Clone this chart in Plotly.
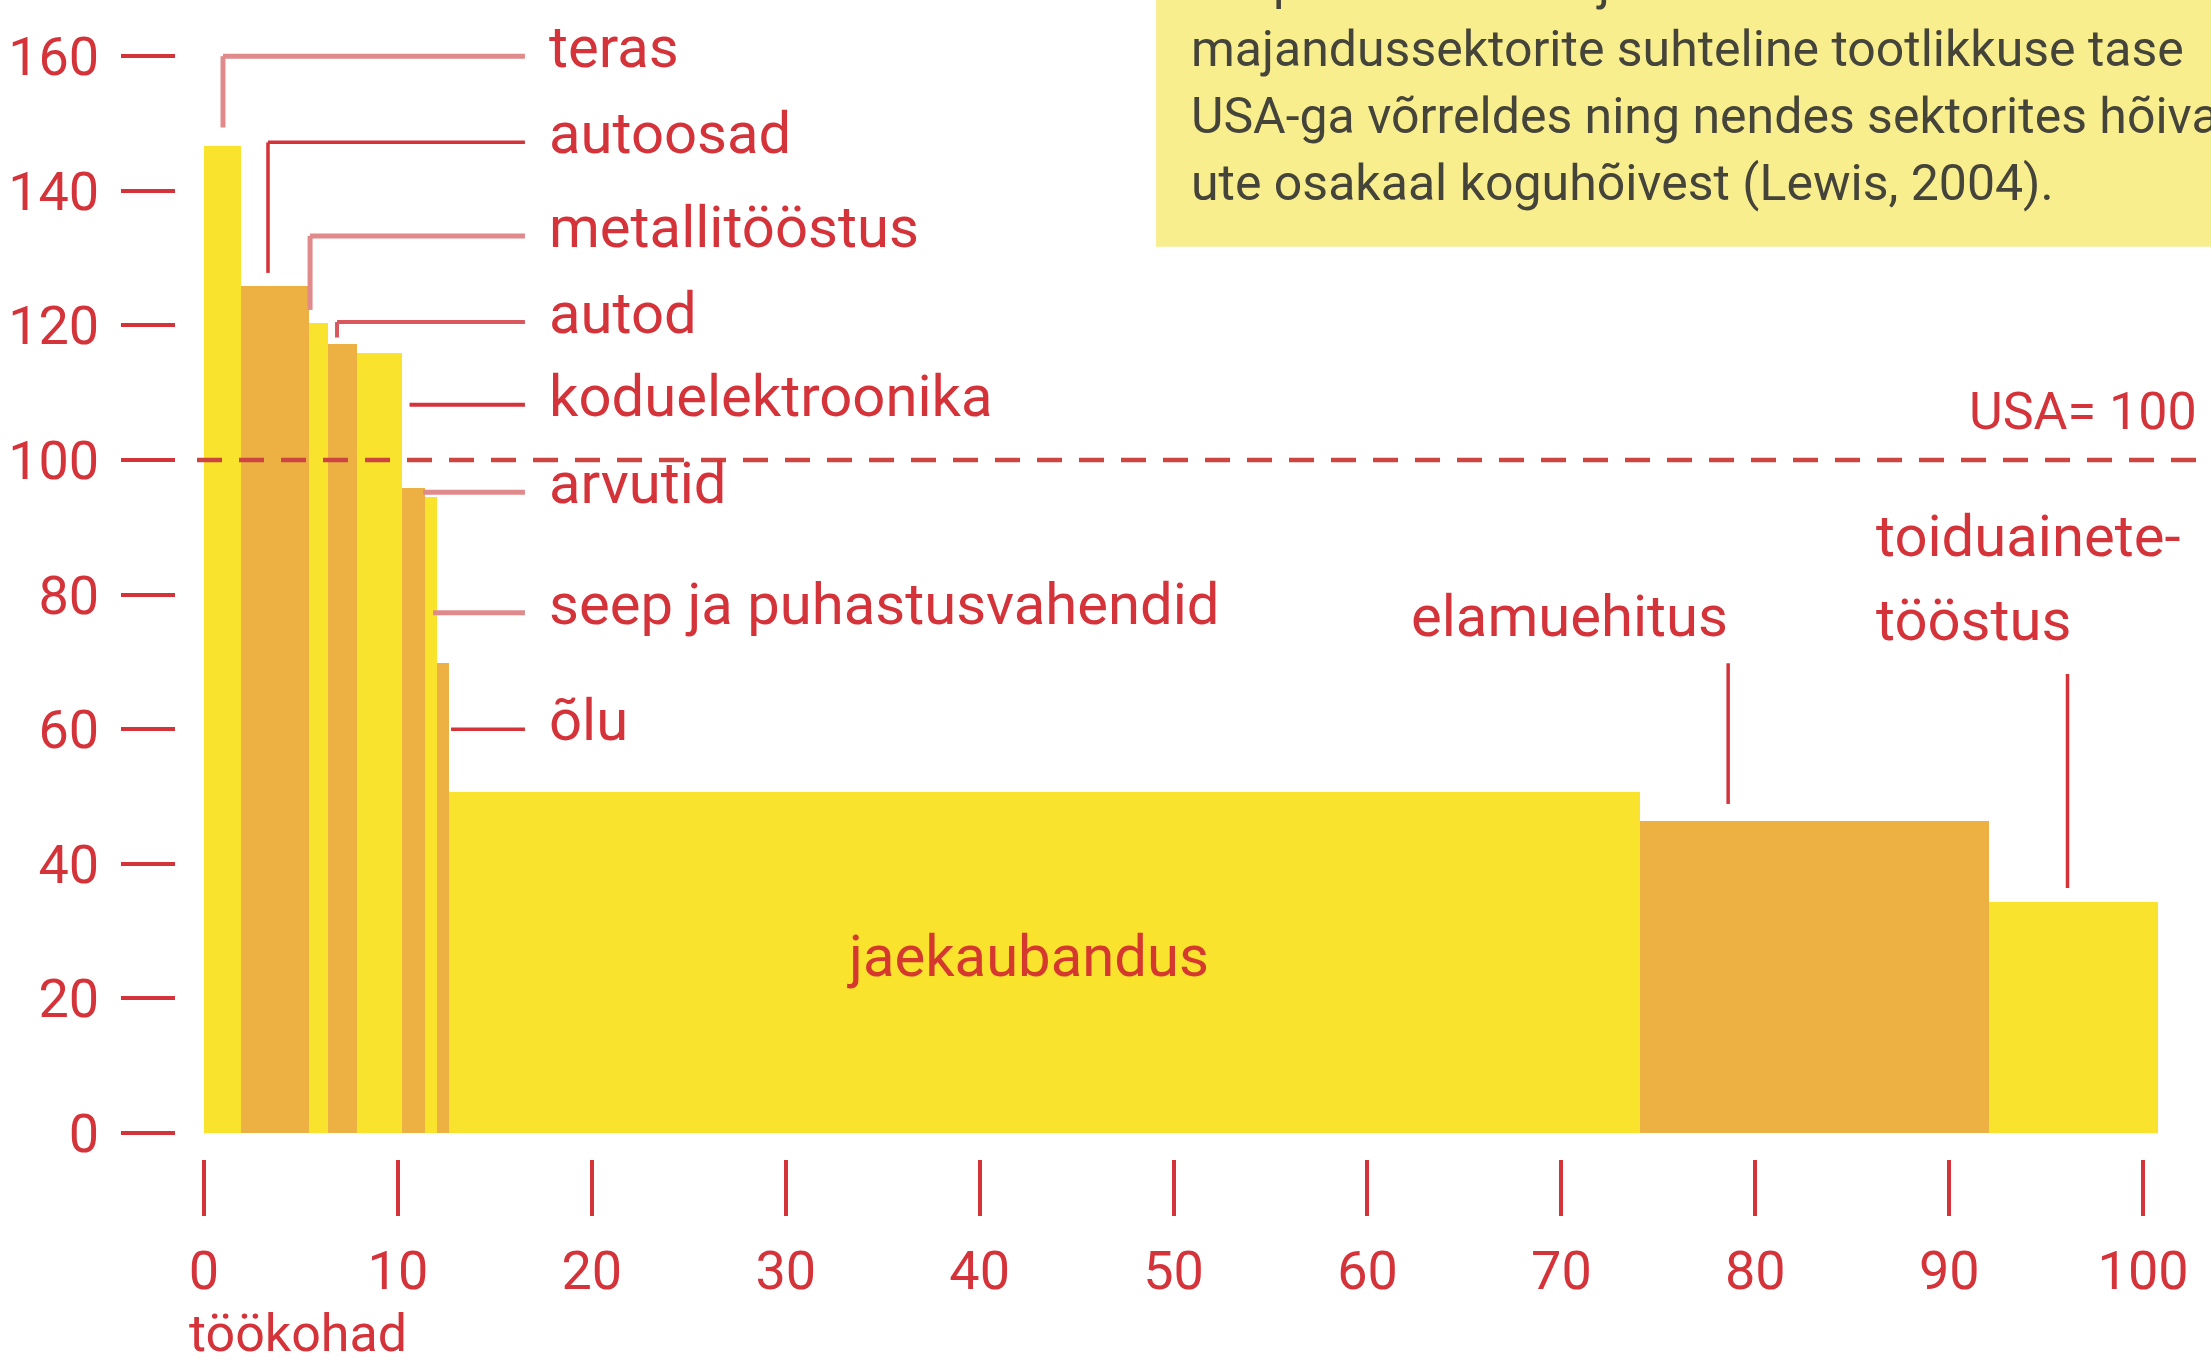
import plotly.graph_objects as go

# ---------------- data ----------------
sectors = ["teras", "autoosad", "metallitööstus", "autod", "koduelektroonika", "arvutid",
           "seep ja puhastusvahendid", "õlu", "jaekaubandus", "elamuehitus", "toiduainetetööstus"]
employment_share = [1.9, 3.5, 1.0, 1.5, 2.3, 1.2, 0.6, 0.65, 61.4, 18.0, 8.7]   # % of jobs (bar width)
productivity = [146.6, 125.9, 120.4, 117.2, 115.9, 95.8, 94.5, 69.9, 50.6, 46.4, 34.3]  # USA = 100
x_ticks = [0, 10, 20, 30, 40, 50, 60, 70, 80, 90, 100]
y_ticks = [0, 20, 40, 60, 80, 100, 120, 140, 160]
usa_level = 100

box_lines = ["Jaapani üldine majandus – erinevate",
             "majandussektorite suhteline tootlikkuse tase",
             "USA-ga võrreldes ning nendes sektorites hõivat-",
             "ute osakaal koguhõivest (Lewis, 2004)."]

# ---------------- style ----------------
YELLOW = "#F9E32C"
ORANGE = "#EDB143"
RED = "#D5333A"
PINK = "#E08A8C"
FONT = "Roboto, Liberation Sans, sans-serif"
W, H = 2211, 1366

lefts = []
acc = 0.0
for w in employment_share:
    lefts.append(acc)
    acc += w
centers = [l + w / 2 for l, w in zip(lefts, employment_share)]
colors = [YELLOW if i % 2 == 0 else ORANGE for i in range(len(sectors))]

fig = go.Figure()
fig.add_trace(go.Bar(
    x=centers, y=productivity, width=employment_share, base=0,
    marker=dict(color=colors, line=dict(width=0)),
    hovertext=sectors, showlegend=False,
))

shapes = []
annotations = []

# USA = 100 dashed line
shapes.append(dict(type="line", xref="x", yref="y", x0=-0.36, x1=104, y0=usa_level, y1=usa_level,
                   line=dict(color="#CC4540", width=4.5, dash="25px,17px"), layer="above"))
annotations.append(dict(x=102.9, y=usa_level, xref="x", yref="y", text="USA= 100",
                        xanchor="right", yanchor="bottom", yshift=16, showarrow=False,
                        font=dict(family=FONT, size=52, color=RED)))

# labels for the narrow bars (layout positions)
leader_y = [160.0, 147.2, 133.3, 120.5, 108.2, 95.2, 77.3, 60.0]
leader_start_x = [0.98, 3.3, 5.47, 6.86, 10.6, 11.3, 11.81, 12.74]
leader_bottom = [149.4, 127.8, 122.3, 118.2, None, None, None, None]
leader_color = [PINK, RED, PINK, "#D8585E", RED, PINK, PINK, RED]
leader_width = [5, 3.5, 5, 4, 4, 5, 5, 3.5]
leader_end_x = 16.55
label_x = 17.69

for i in range(8):
    shapes.append(dict(type="line", xref="x", yref="y", x0=leader_start_x[i], x1=leader_end_x,
                       y0=leader_y[i], y1=leader_y[i],
                       line=dict(color=leader_color[i], width=leader_width[i])))
    if leader_bottom[i] is not None:
        shapes.append(dict(type="line", xref="x", yref="y", x0=leader_start_x[i], x1=leader_start_x[i],
                           y0=leader_y[i], y1=leader_bottom[i],
                           line=dict(color=leader_color[i], width=leader_width[i])))
    annotations.append(dict(x=label_x, y=leader_y[i], xref="x", yref="y", text=sectors[i],
                            xanchor="left", yanchor="middle", yshift=9, showarrow=False,
                            font=dict(family=FONT, size=58, color=RED)))

# jaekaubandus label inside bar
annotations.append(dict(x=42.5, y=26.3, xref="x", yref="y", text=sectors[8],
                        xanchor="center", yanchor="middle", showarrow=False,
                        font=dict(family=FONT, size=58, color="#D4382E")))

# elamuehitus
shapes.append(dict(type="line", xref="x", yref="y", x0=78.6, x1=78.6, y0=69.8, y1=48.9,
                   line=dict(color=RED, width=3.5)))
annotations.append(dict(x=70.4, y=76.8, xref="x", yref="y", text=sectors[9],
                        xanchor="center", yanchor="middle", showarrow=False,
                        font=dict(family=FONT, size=58, color=RED)))

# toiduainetetööstus
shapes.append(dict(type="line", xref="x", yref="y", x0=96.1, x1=96.1, y0=68.2, y1=36.4,
                   line=dict(color=RED, width=3.5)))
annotations.append(dict(x=86.1, y=88.7, xref="x", yref="y", text="toiduainete-",
                        xanchor="left", yanchor="middle", showarrow=False,
                        font=dict(family=FONT, size=58, color=RED)))
annotations.append(dict(x=86.1, y=76.2, xref="x", yref="y", text="tööstus",
                        xanchor="left", yanchor="middle", showarrow=False,
                        font=dict(family=FONT, size=58, color=RED)))

# x-axis title
annotations.append(dict(x=-0.88, y=-0.1544, xref="x", yref="paper", text="töökohad",
                        xanchor="left", yanchor="middle", yshift=4, showarrow=False,
                        font=dict(family=FONT, size=52, color=RED)))

# info box (top right, cut by page edges)
shapes.append(dict(type="rect", xref="paper", yref="paper", x0=0.4816, x1=1.2, y0=0.787, y1=1.3,
                   fillcolor="#F9EE8E", line=dict(width=0), layer="above"))
box_y = [1.0155, 0.9577, 0.9003, 0.8425]
for t, yy in zip(box_lines, box_y):
    annotations.append(dict(x=0.4978, y=yy, xref="paper", yref="paper", text=t,
                            xanchor="left", yanchor="middle", showarrow=False,
                            font=dict(family=FONT, size=50, color="#45443A")))

fig.update_layout(
    width=W, height=H,
    margin=dict(l=176, r=0, t=0, b=207, autoexpand=False),
    paper_bgcolor="white", plot_bgcolor="white",
    barmode="overlay", bargap=0,
    shapes=shapes, annotations=annotations,
    xaxis=dict(range=[-1.444, 103.5], tickvals=x_ticks, ticktext=[str(v) for v in x_ticks],
               ticks="outside", ticklen=56, tickwidth=3.5, tickcolor=RED, automargin=False,
               showgrid=False, zeroline=False, showline=False,
               tickfont=dict(family=FONT, size=54, color=RED), ticklabelstandoff=8),
    yaxis=dict(range=[-3.86, 168.35], tickvals=y_ticks, ticktext=[str(v) for v in y_ticks],
               ticks="outside", ticklen=54, tickwidth=4, tickcolor=RED, automargin=False,
               showgrid=False, zeroline=False, showline=False,
               tickfont=dict(family=FONT, size=54, color=RED), ticklabelstandoff=11),
)

fig.write_html("out.html", config={"displayModeBar": False},
               post_script="document.body.style.margin='0';document.body.style.overflow='hidden';")
